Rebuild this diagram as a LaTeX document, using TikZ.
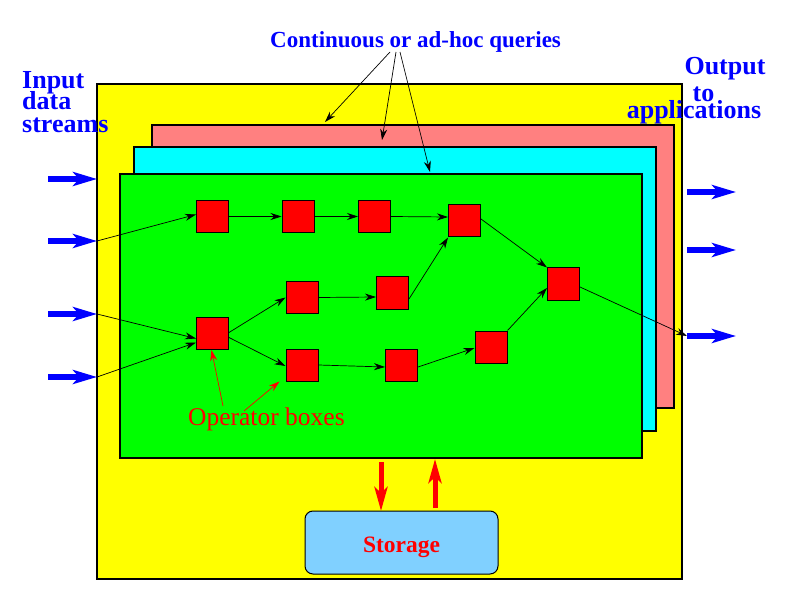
\documentclass[tikz,border=0pt]{standalone}
\usepackage{fontspec}
\setmainfont{Liberation Serif}
\usetikzlibrary{arrows.meta}
\definecolor{pinkq}{HTML}{FF8080}
\definecolor{stor}{HTML}{80D0FF}
\definecolor{yel}{HTML}{FFFF00}
\definecolor{cyn}{HTML}{00FFFF}
\definecolor{grn}{HTML}{00FF00}
\definecolor{rd}{HTML}{FF0000}
\definecolor{bl}{HTML}{0000FF}
\begin{document}
\begin{tikzpicture}[x=1pt,y=-1pt,
  layer/.style={draw=black,line width=1.6pt},
  opbox/.style={draw=black,line width=1pt,fill=rd,minimum width=32pt,minimum height=32pt,inner sep=0pt},
  conn/.style={draw=black,line width=0.7pt,-{Stealth[length=11pt,width=7pt]}},
  bigblue/.style={draw=bl,line width=6pt,-{Stealth[length=24pt,width=14pt,inset=6pt]}},
  bigred/.style={draw=rd,line width=5pt,-{Stealth[length=24pt,width=13pt,inset=6pt]}},
  redconn/.style={draw=rd,line width=0.7pt,-{Stealth[length=11pt,width=7pt]}},
  bluetxt/.style={text=bl,font=\fontsize{26}{22}\selectfont\bfseries,inner sep=0pt,text height=17pt,text depth=0pt}
]
\useasboundingbox (0,0) rectangle (792,612);
\fill[white] (0,0) rectangle (792,612);
% layers
\draw[layer,fill=yel] (97,84) rectangle (682,579);
\draw[layer,fill=pinkq] (152,125) rectangle (674,408);
\draw[layer,fill=cyn] (134,147) rectangle (656,431);
\draw[layer,fill=grn] (120,174) rectangle (642,458);
% storage
\node[draw=black,line width=1pt,fill=stor,rounded corners=8pt,minimum width=193pt,minimum height=63pt,inner sep=0pt] (st) at (401.5,542.5) {};
\node[anchor=base,text=rd,font=\fontsize{23.5}{23.5}\selectfont\bfseries,inner sep=0pt] (stt) at (401.5,552) {Storage};
% operator boxes
\node[opbox] (A) at (212.5,216.5) {};
\node[opbox] (B) at (298,216.5) {};
\node[opbox] (C) at (374.5,216.5) {};
\node[opbox] (D) at (464.5,221) {};
\node[opbox] (E) at (302,297.5) {};
\node[opbox] (F) at (392.5,293) {};
\node[opbox] (G) at (212.5,333.5) {};
\node[opbox] (H) at (302,365) {};
\node[opbox] (I) at (401.5,365) {};
\node[opbox] (J) at (491,347) {};
\node[opbox] (K) at (563.5,284) {};
% input arrows
\coordinate (i1s) at (48,179); \coordinate (i1e) at (97,179);
\coordinate (i2s) at (48,241); \coordinate (i2e) at (97,241);
\coordinate (i3s) at (48,314); \coordinate (i3e) at (97,314);
\coordinate (i4s) at (48,377); \coordinate (i4e) at (97,377);
\draw[bigblue] (i1s) -- (i1e);
\draw[bigblue] (i2s) -- (i2e);
\draw[bigblue] (i3s) -- (i3e);
\draw[bigblue] (i4s) -- (i4e);
% output arrows
\coordinate (o1s) at (687,192); \coordinate (o1e) at (736,192);
\coordinate (o2s) at (687,250); \coordinate (o2e) at (736,250);
\coordinate (o3s) at (687,336); \coordinate (o3e) at (736,336);
\draw[bigblue] (o1s) -- (o1e);
\draw[bigblue] (o2s) -- (o2e);
\draw[bigblue] (o3s) -- (o3e);
% connectors
\draw[conn] (i2e) -- ([yshift=2pt]A.west);
\draw[conn] (i3e) -- ([yshift=-5pt]G.west);
\draw[conn] (i4e) -- ([yshift=-9pt]G.west);
\draw[conn] (A.east) -- (B.west);
\draw[conn] (B.east) -- (C.west);
\draw[conn] (C.east) -- ([yshift=4pt]D.west);
\draw[conn] ([yshift=1pt]G.east) -- (E.west);
\draw[conn] ([yshift=-4pt]G.east) -- ([yshift=-1pt]H.west);
\draw[conn] (E.east) -- ([yshift=-4pt]F.west);
\draw[conn] ([yshift=-6pt]F.east) -- (D.south west);
\draw[conn] (H.east) -- ([yshift=-2pt]I.west);
\draw[conn] ([yshift=-2pt]I.east) -- ([yshift=-1pt]J.west);
\draw[conn] (J.north east) -- ([yshift=-4pt]K.west);
\draw[conn] ([yshift=2pt]D.east) -- (K.north west);
\draw[conn] ([yshift=-3pt]K.east) -- (o3s);
% storage arrows
\coordinate (sd1) at (381,462); \coordinate (sd2) at (381,511);
\coordinate (su1) at (435,508); \coordinate (su2) at (435,459);
\draw[bigred] (sd1) -- (sd2);
\draw[bigred] (su1) -- (su2);
% texts
\node[bluetxt,anchor=base west] (in1) at (22,89) {Input};
\node[bluetxt,anchor=base west] (in2) at (22,110) {data};
\node[bluetxt,anchor=base west] (in3) at (22,133) {streams};
\node[bluetxt,anchor=base] (out1) at (725,75) {Output};
\node[bluetxt,anchor=base,text height=12pt] (out2) at (703.5,102) {to};
\node[bluetxt,anchor=base,text height=12pt] (out3) at (694,119) {applications};
\node[text=bl,font=\fontsize{23}{23}\selectfont\bfseries,inner sep=0pt,anchor=base west] (q) at (270,48) {Continuous or ad-hoc queries};
\coordinate (q1) at (390,52); \coordinate (q2) at (396,52); \coordinate (q3) at (400,52);
\coordinate (t1) at (325,122); \coordinate (t2) at (382,140); \coordinate (t3) at (430,172);
\draw[conn] (q1) -- (t1);
\draw[conn] (q2) -- (t2);
\draw[conn] (q3) -- (t3);
\node[text=rd,font=\fontsize{25.5}{25.5}\selectfont,inner sep=0pt,anchor=base west] (ob) at (188,425) {Operator boxes};
\coordinate (ob1) at (223,406); \coordinate (ob2) at (244,411);
\draw[redconn] (ob1) -- ([xshift=-1pt]G.south);
\draw[redconn] (ob2) -- ([xshift=-6pt]H.south west);
\end{tikzpicture}
\end{document}
